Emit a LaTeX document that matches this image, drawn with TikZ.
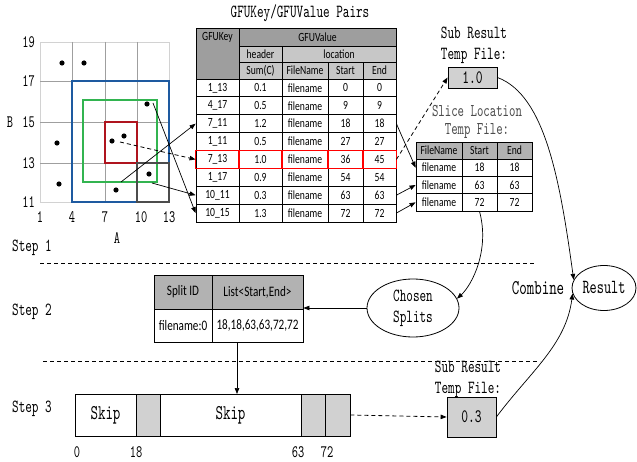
\documentclass[tikz,border=0pt]{standalone}
\usepackage{fontspec}
\setmainfont{lmmono10-regular}[Extension=.otf, FakeStretch=0.68]
\newfontfamily\tf{Carlito}[FakeStretch=0.77]
\usetikzlibrary{arrows.meta,shapes.geometric}
\definecolor{hdark}{gray}{0.62}
\definecolor{hlight}{gray}{0.78}
\definecolor{hmid}{gray}{0.70}
\definecolor{boxg}{gray}{0.82}
\definecolor{gblue}{RGB}{30,90,160}
\definecolor{ggreen}{RGB}{50,180,80}
\definecolor{gred}{RGB}{175,20,30}
\tikzset{
  tcell/.style={draw, inner sep=0pt, line width=0.8pt, font=\tf\fontsize{12.5}{14}\selectfont},
  scell/.style={tcell, font=\tf\fontsize{14.5}{16}\selectfont},
  lbl/.style={inner sep=0pt, font=\fontsize{18.5}{21}\selectfont, align=center},
  axl/.style={inner sep=0pt, font=\fontsize{17.5}{19}\selectfont},
  arr/.style={line width=0.7pt, -{Triangle[length=6pt,width=4.5pt]}},
  dsh/.style={line width=0.8pt, dash pattern=on 4pt off 3pt},
  dot/.style={fill=black}
}
\newcommand{\tcellnode}[8]{\node[#8,fill=#5,minimum width={(#3)-(#1)},minimum height={(#4)-(#2)}] (#6) at ({((#1)+(#3))/2},{((#2)+(#4))/2}) {#7};}
\begin{document}
\begin{tikzpicture}[x=1pt,y=-1pt]
\useasboundingbox (0,0) rectangle (637,462);
% ---------- grid ----------
\draw[gray!35, line width=0.8pt] (40,42) rectangle (169,202);
\foreach \gx in {72,105,137} \draw[gray!75, line width=0.7pt] (\gx,42) -- (\gx,202);
\foreach \gy in {81,122,163} \draw[gray!75, line width=0.7pt] (40,\gy) -- (169,\gy);
\draw[gblue, line width=1.4pt] (72,81) rectangle (169,202);
\draw[ggreen, line width=1.3pt] (83,100) rectangle (157,182);
\draw[gred, line width=1.3pt] (105,122) rectangle (137,163);
\draw[black!70, line width=1.1pt] (137,163) rectangle (169,202);
\foreach \dx/\dy in {62/63,84/63,57/143,59/184,112/141,124/136,147/104,149/174,116/190}
  \fill[dot] (\dx,\dy) circle (2.6);
\foreach \v/\gy in {19/42,17/81,15/122,13/163,11/202}
  \node[axl] (ay\v) at (28.5,\gy) {\v};
\node[axl] (lb) at (10,122) {B};
\foreach \v/\gx in {1/40,4/72,7/105,10/141,13/169}
  \node[axl] (ax\v) at (\gx,217) {\v};
\node[axl] (la) at (117,238) {A};
% ---------- GFU table ----------
\node[lbl] (title) at (300,13) {GFUKey/GFUValue Pairs};
\tcellnode{196}{28}{239}{79}{hdark}{kh}{}{tcell}
\node[inner sep=0pt, font=\tf\fontsize{12.5}{14}\selectfont] (khtext) at (217.5,37) {GFUKey};
\tcellnode{239}{28}{396}{46}{hdark}{vh}{GFUValue}{tcell}
\tcellnode{239}{46}{282}{62}{hlight}{hh}{header}{tcell}
\tcellnode{282}{46}{396}{62}{hlight}{lh}{location}{tcell}
\tcellnode{239}{62}{282}{79}{hlight}{sh}{Sum(C)}{tcell}
\tcellnode{282}{62}{328}{79}{hlight}{fh}{FileName}{tcell}
\tcellnode{328}{62}{363}{79}{hlight}{ah}{Start}{tcell}
\tcellnode{363}{62}{396}{79}{hlight}{bh}{End}{tcell}
\foreach \k/\s/\a/\b [count=\i] in {1\_13/0.1/0/0,4\_17/0.5/9/9,7\_11/1.2/18/18,1\_11/0.5/27/27,7\_13/1.0/36/45,1\_17/0.9/54/54,10\_11/0.3/63/63,10\_15/1.3/72/72}{
  \pgfmathsetmacro\ya{79+17.875*(\i-1)}
  \pgfmathsetmacro\yb{79+17.875*\i}
  \tcellnode{196}{\ya}{239}{\yb}{white}{k\i}{\k}{tcell}
  \tcellnode{239}{\ya}{282}{\yb}{white}{s\i}{\s}{tcell}
  \tcellnode{282}{\ya}{328}{\yb}{white}{f\i}{filename}{tcell}
  \tcellnode{328}{\ya}{363}{\yb}{white}{a\i}{\a}{tcell}
  \tcellnode{363}{\ya}{396}{\yb}{white}{b\i}{\b}{tcell}
}
\foreach \n in {k5,s5,f5,a5,b5}
  \draw[red, line width=0.9pt] (\n.south west) rectangle (\n.north east);
% ---------- slice location table ----------
\node[lbl, text=black!70, font=\fontsize{18}{18}\selectfont] (sltitle) at (477,122) {Slice Location\\Temp File:};
\tcellnode{416}{142}{462}{159}{hmid}{lfh}{FileName}{tcell}
\tcellnode{462}{142}{497}{159}{hmid}{lah}{Start}{tcell}
\tcellnode{497}{142}{532}{159}{hmid}{lbh}{End}{tcell}
\foreach \a/\b [count=\i] in {18/18,63/63,72/72}{
  \pgfmathsetmacro\ya{159+17.33*(\i-1)}
  \pgfmathsetmacro\yb{159+17.33*\i}
  \tcellnode{416}{\ya}{462}{\yb}{white}{l\i}{filename}{tcell}
  \tcellnode{462}{\ya}{497}{\yb}{white}{la\i}{\a}{tcell}
  \tcellnode{497}{\ya}{532}{\yb}{white}{lb\i}{\b}{tcell}
}
% ---------- sub result 1.0 ----------
\node[lbl] (sr1) at (474,45.5) {Sub Result\\Temp File:};
\tcellnode{448}{67}{497}{88}{boxg}{one}{\fontsize{19}{20}\rmfamily 1.0}{tcell}
% ---------- grid -> table arrows ----------
\coordinate (p1) at (121,182);
\coordinate (p2) at (120,142);
\coordinate (p3) at (152,183);
\coordinate (p4) at (153,103);
\draw[arr] (p1) -- (k3.west);
\draw[arr, dsh] (p2) -- (k5.west);
\draw[arr] (p3) -- (k7.west);
\draw[arr] (p4) -- (k8.west);
% ---------- table -> slice ----------
\draw[arr] (b3.east) -- (l1.west);
\draw[arr] (b7.east) -- (l2.west);
\draw[arr] (b8.east) -- (l3.west);
\draw[arr, dsh] (b5.east) -- (one.west);
% ---------- steps ----------
\node[lbl] (st1) at (32,248) {Step 1};
\node[lbl] (st2) at (32,312) {Step 2};
\node[lbl] (st3) at (32,409) {Step 3};
\coordinate (d1a) at (40,263);
\coordinate (d1b) at (535,263);
\coordinate (d2a) at (43,361);
\coordinate (d2b) at (540,361);
\draw[dsh] (d1a) -- (d1b);
\draw[dsh] (d2a) -- (d2b);
% ---------- split table ----------
\tcellnode{154}{275}{212}{309}{hmid}{sph}{Split ID}{scell}
\tcellnode{212}{275}{303}{309}{hmid}{slh}{List<Start,End>}{scell}
\tcellnode{154}{309}{212}{342}{white}{spd}{filename:0}{scell}
\tcellnode{212}{309}{303}{342}{white}{sld}{18,18,63,63,72,72}{scell}
% ---------- ellipses ----------
\node[draw, ellipse, line width=0.8pt, minimum width=92, minimum height=58, inner sep=0pt, lbl] (cs) at (413,308) {Chosen\\Splits};
\node[draw, ellipse, line width=0.8pt, minimum width=64, minimum height=45, inner sep=0pt, lbl, font=\fontsize{20}{21}\selectfont] (res) at (604,288) {Result};
\node[lbl, font=\fontsize{21}{22}\selectfont] (comb) at (538,288) {Combine};
\draw[arr] (cs.west) -- (cs.west -| sld.east);
\draw[arr] (la3.south) .. controls (490,250) and (472,285) .. (cs.12);
\draw[arr] (one.east) .. controls (545,95) and (560,180) .. (res.165);
% ---------- bar ----------
\tcellnode{75}{394}{136}{436}{white}{sk1}{\fontsize{21}{22}\rmfamily Skip}{tcell}
\tcellnode{136}{394}{160}{436}{boxg}{g1}{}{tcell}
\tcellnode{160}{394}{301}{436}{white}{sk2}{\fontsize{21}{22}\rmfamily Skip}{tcell}
\tcellnode{301}{394}{325}{436}{boxg}{g2}{}{tcell}
\tcellnode{325}{394}{350}{436}{boxg}{g3}{}{tcell}
\node[axl] (n0) at (77,452) {0};
\node[axl] (n18) at (136,452) {18};
\node[axl] (n63) at (298,452) {63};
\node[axl] (n72) at (327,452) {72};
\coordinate (sbt) at (237,342);
\coordinate (bart) at (237,394);
\draw[arr] (sbt) -- (bart);
% ---------- sub result 0.3 ----------
\node[lbl] (sr2) at (468,379) {Sub Result\\Temp File:};
\tcellnode{447}{397}{496}{437}{boxg}{three}{\fontsize{19}{20}\rmfamily 0.3}{tcell}
\draw[arr, dsh] (g3.east) -- (three.west);
\draw[arr] (three.east) .. controls (530,372) and (566,345) .. (res.190);
\end{tikzpicture}
\end{document}
